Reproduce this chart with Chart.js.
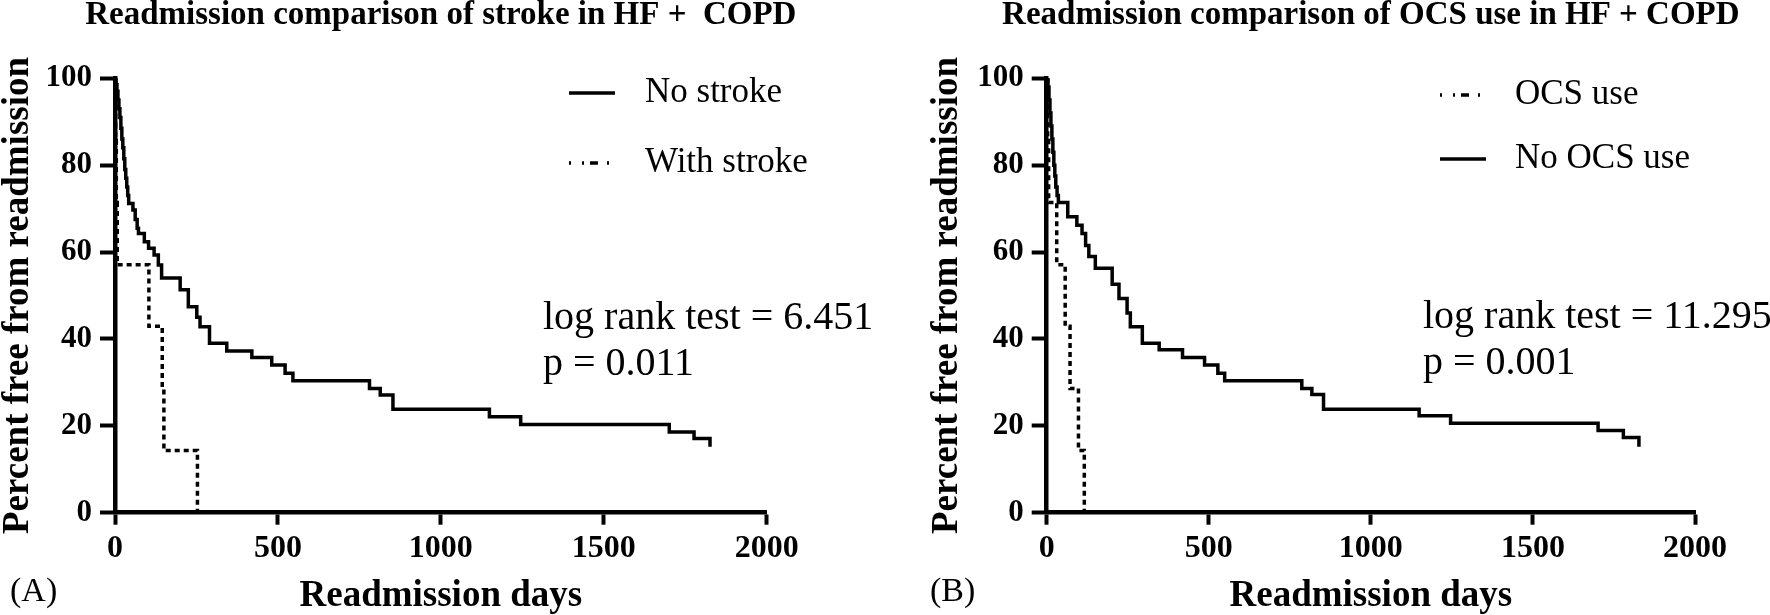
<!DOCTYPE html>
<html>
<head>
<meta charset="utf-8">
<script src="https://cdn.jsdelivr.net/npm/chart.js@4.4.1/dist/chart.umd.min.js"></script>
<style>
  html, body { margin: 0; padding: 0; background: #fff; }
  .wrap { display: flex; width: 1770px; height: 615px; }
  .panel { width: 885px; height: 615px; }
</style>
</head>
<body>
<div class="wrap">
  <div class="panel"><canvas id="strokeChart" width="885" height="615"></canvas></div>
  <div class="panel"><canvas id="ocsChart" width="885" height="615"></canvas></div>
</div>
<script>
// Kaplan-Meier curves (days, % free from readmission)
const noStrokeDays = [0, 3, 6, 9, 12, 15, 18, 21, 24, 27, 30, 33, 36, 39, 42, 55, 62, 68, 72, 90,
  103, 120, 133, 143, 200, 225, 251, 261, 290, 343, 420, 481, 522, 546, 781, 814, 853, 1149, 1245, 1701, 1777, 1826];
const noStrokePct = [100, 98.5, 97, 95, 93, 91, 88.5, 86, 84, 81.5, 79, 77, 75, 73, 71.2, 69.7, 67.5, 65.5, 64.3, 62.4,
  60.9, 59.3, 57, 54.0, 51.3, 47.4, 45, 42.8, 39.0, 37.2, 35.7, 34.0, 32.1, 30.4, 28.6, 27.1, 23.8, 22.1, 20.3, 18.6, 17.1, 15.2];

const withStrokeDays = [0, 2, 4, 7, 104, 145, 150, 253];
const withStrokePct = [100, 85.7, 71.4, 57.1, 42.9, 28.6, 14.3, 0];

const ocsDays = [0, 3, 6, 31, 57, 72, 98, 116];
const ocsPct = [100, 85.7, 71.4, 57.1, 42.9, 28.6, 14.3, 0];

const noOcsDays = [0, 4, 7, 10, 13, 16, 19, 22, 25, 28, 32, 36, 65, 93, 109, 120, 130, 150, 202, 223,
  248, 258, 295, 347, 419, 487, 528, 549, 787, 818, 854, 1149, 1246, 1701, 1779, 1827];
const noOcsPct = [100, 98, 95, 92, 89, 86, 83, 80, 77.5, 75, 73, 71.4, 68.1, 66.2, 64.3, 61.5, 59, 56.3, 52.6, 49.3,
  46, 42.8, 39.0, 37.5, 35.7, 34.0, 32.1, 30.4, 28.6, 27.2, 23.8, 22.3, 20.6, 18.9, 17.3, 15.2];

const xTicks = [0, 500, 1000, 1500, 2000];
const yTicks = [0, 20, 40, 60, 80, 100];

Chart.defaults.font.family = "'Liberation Serif', 'Times New Roman', serif";
Chart.defaults.color = "#000";

const toPoints = (days, pct) => days.map((d, i) => ({ x: d, y: pct[i] }));

// title, legend, log-rank text and panel letter
const panelText = {
  id: "panelText",
  afterDraw(chart, args, opts) {
    const ctx = chart.ctx;
    const area = chart.chartArea;
    ctx.save();
    ctx.fillStyle = "#000";
    ctx.strokeStyle = "#000";

    // title, centred over the plot area (not squeezed to its width)
    ctx.textAlign = "center";
    ctx.textBaseline = "alphabetic";
    ctx.font = "bold 33px 'Liberation Serif'";
    ctx.fillText(opts.title, (area.left + area.right) / 2, 24);

    ctx.textAlign = "left";
    ctx.textBaseline = "middle";
    ctx.font = "35px 'Liberation Serif'";
    opts.legendOrder.forEach((idx, i) => {
      const ds = chart.data.datasets[idx];
      const y = opts.legendY[i];
      ctx.lineWidth = 3.5;
      ctx.setLineDash(ds.borderDash.length ? [2, 11, 2, 6, 8, 9, 2, 40] : []);
      ctx.beginPath();
      ctx.moveTo(opts.legendX, y);
      ctx.lineTo(opts.legendX + 46, y);
      ctx.stroke();
      ctx.setLineDash([]);
      ctx.fillText(ds.label, opts.legendTextX, y);
    });

    ctx.textBaseline = "alphabetic";
    ctx.font = "40px 'Liberation Serif'";
    opts.stats.forEach((s, i) => ctx.fillText(s, opts.statsX, opts.statsY + i * 46));
    ctx.font = "34px 'Liberation Serif'";
    ctx.fillText(opts.letter, opts.letterX, 601);
    ctx.restore();
  }
};

function makeChart(id, o) {
  return new Chart(document.getElementById(id), {
    type: "line",
    data: {
      datasets: o.series.map(s => ({
        label: s.label,
        data: toPoints(s.days, s.pct),
        borderColor: "#000",
        borderWidth: 3.5,
        borderDash: s.dashed ? [5, 4] : [],
        stepped: "before",
        pointRadius: 0,
        fill: false
      }))
    },
    options: {
      responsive: false,
      animation: false,
      layout: { padding: { left: o.padLeft, right: o.padRight, top: 78.3, bottom: 0 } },
      plugins: {
        legend: { display: false },
        tooltip: { enabled: false },
        title: { display: false },
        panelText: o.text
      },
      scales: {
        x: {
          type: "linear",
          min: 0,
          max: 2000,
          afterBuildTicks: s => { s.ticks = xTicks.map(v => ({ value: v })); },
          ticks: { padding: 5, maxRotation: 0, font: { size: 32, weight: "bold" }, callback: v => String(v) },
          grid: { drawOnChartArea: false, drawTicks: true, tickLength: 12, tickWidth: 4, tickColor: "#000" },
          border: { display: true, color: "#000", width: 4.5 },
          title: { display: true, text: "Readmission days", font: { size: 37, weight: "bold", lineHeight: 1 }, padding: 0 },
          afterFit: s => { s.height = 102.3; }
        },
        y: {
          min: 0,
          max: 100,
          afterBuildTicks: s => { s.ticks = yTicks.map(v => ({ value: v })); },
          ticks: { padding: 8, font: { size: 31, weight: "bold" }, callback: v => String(v) },
          grid: { drawOnChartArea: false, drawTicks: true, tickLength: 15, tickWidth: 4, tickColor: "#000" },
          border: { display: true, color: "#000", width: 4.5 },
          title: { display: true, text: "Percent free from readmission", font: { size: 37, weight: "bold", lineHeight: 1 }, padding: 0 },
          afterFit: s => { s.width = o.yWidth; }
        }
      }
    },
    plugins: [panelText]
  });
}

makeChart("strokeChart", {
  padLeft: 0, padRight: 118.3, yWidth: 115,
  series: [
    { label: "No stroke", days: noStrokeDays, pct: noStrokePct, dashed: false },
    { label: "With stroke", days: withStrokeDays, pct: withStrokePct, dashed: true }
  ],
  text: {
    title: "Readmission comparison of stroke in HF +  COPD",
    legendOrder: [0, 1], legendY: [93, 163], legendX: 569, legendTextX: 645,
    stats: ["log rank test = 6.451", "p = 0.011"], statsX: 543, statsY: 329,
    letter: "(A)", letterX: 10
  }
});

makeChart("ocsChart", {
  padLeft: 44, padRight: 75, yWidth: 117.7,
  series: [
    { label: "OCS use", days: ocsDays, pct: ocsPct, dashed: true },
    { label: "No OCS use", days: noOcsDays, pct: noOcsPct, dashed: false }
  ],
  text: {
    title: "Readmission comparison of OCS use in HF + COPD",
    legendOrder: [0, 1], legendY: [95, 159], legendX: 555, legendTextX: 630,
    stats: ["log rank test = 11.295", "p = 0.001"], statsX: 538, statsY: 328,
    letter: "(B)", letterX: 45
  }
});
</script>
</body>
</html>
